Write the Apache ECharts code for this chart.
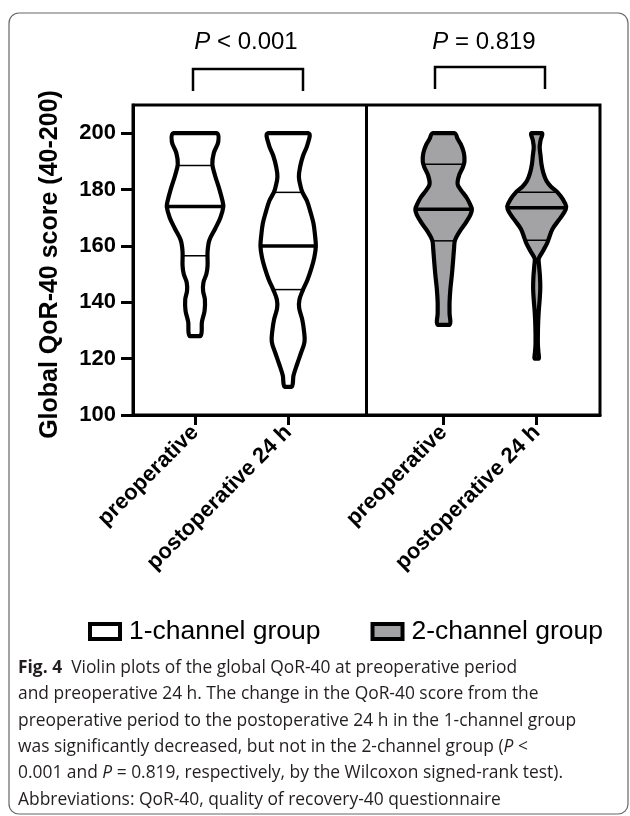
<!DOCTYPE html>
<html>
<head>
<meta charset="utf-8">
<script src="https://cdn.jsdelivr.net/npm/echarts@6/dist/echarts.min.js"></script>
<style>
  html, body { margin: 0; padding: 0; background: #fff; }
  #chart { width: 630px; height: 816px; }
</style>
</head>
<body>
<div id="chart"></div>
<script>
// categories / groups / ticks
var categories = ['preoperative', 'postoperative 24 h', 'preoperative', 'postoperative 24 h'];
var groupNames = ['1-channel group', '2-channel group'];
var yTicks = [100, 120, 140, 160, 180, 200];
var pValues = ['< 0.001', '= 0.819'];

// violin outlines: [score, relative density]
var dens1Pre = [[200, .72], [197, .78], [193, .63], [189, .58], [185, .67], [180, .82], [176, .92], [174, .95],
  [170, .85], [166, .67], [162, .48], [158, .42], [153, .42], [150, .38], [147, .28], [144, .27], [141, .33],
  [137, .32], [133, .23], [128, .18]];
var dens1Post = [[200, .68], [196, .65], [192, .50], [188, .40], [184.5, .36], [181, .42], [179, .48], [176, .63],
  [172, .75], [168, .85], [164, .90], [160, .93], [156, .88], [152, .78], [148, .65], [144.5, .50], [141, .38],
  [138, .37], [134, .47], [130, .53], [126, .55], [122, .43], [118, .30], [114, .18], [110, .12]];
var dens2Pre = [[200, .37], [198, .47], [196, .58], [193, .68], [190, .70], [188, .65], [185, .52], [182, .47],
  [180, .57], [177, .78], [174.5, .90], [173, .95], [171, .90], [168, .73], [165, .53], [162, .38], [159, .35],
  [155, .32], [150, .28], [145, .23], [140, .20], [136, .20], [132, .20]];
var dens2Post = [[200, .18], [197.5, .13], [195, .10], [192, .13], [189, .16], [186, .22], [183, .33], [181, .48],
  [179, .70], [176.5, .88], [174, .99], [172, .93], [169, .73], [166, .53], [163, .42], [161, .35], [158, .20],
  [155.5, .07], [153, .08], [149, .11], [145, .12], [141, .10], [137, .07], [133, .05], [129, .04], [125, .04],
  [122, .06], [120, .07]];

// [Q1, median, Q3]
var quart1Pre = [156.5, 174, 188.5];
var quart1Post = [144.5, 160, 179];
var quart2Pre = [161.8, 173, 189];
var quart2Post = [162, 173.5, 179];

var violins = [
  { dens: dens1Pre, quart: quart1Pre },
  { dens: dens1Post, quart: quart1Post },
  { dens: dens2Pre, quart: quart2Pre },
  { dens: dens2Post, quart: quart2Post }
];

// layout
var xPos = [1, 2, 3.67, 4.67];
var PANEL_SPLIT = 2.84;
var HALF = 0.32; // max half width in x units
var FONT = 'Liberation Sans, Arial, sans-serif';
var CAP_FONT = 'Open Sans';
var GRAY = '#a3a3a6';

function widthAt(dens, v) {
  for (var i = 0; i < dens.length - 1; i++) {
    var a = dens[i], b = dens[i + 1];
    if (v <= a[0] && v >= b[0]) {
      var t = (a[0] - v) / (a[0] - b[0]);
      return a[1] + (b[1] - a[1]) * t;
    }
  }
  return 0;
}

function violinItem(offset, fill) {
  return function (params, api) {
    var idx = offset + params.dataIndex;
    var v = violins[idx];
    var x = xPos[idx];
    var right = [], left = [];
    v.dens.forEach(function (d) {
      right.push(api.coord([x + d[1] * HALF, d[0]]));
      left.unshift(api.coord([x - d[1] * HALF, d[0]]));
    });
    var pts = right.concat(left);
    var mn = [Infinity, Infinity], mx = [-Infinity, -Infinity];
    pts.forEach(function (p) {
      mn[0] = Math.min(mn[0], p[0]); mn[1] = Math.min(mn[1], p[1]);
      mx[0] = Math.max(mx[0], p[0]); mx[1] = Math.max(mx[1], p[1]);
    });
    var children = [{
      type: 'polygon',
      shape: { points: pts, smooth: 0.35, smoothConstraint: [mn, mx] },
      style: { fill: fill, stroke: '#000', lineWidth: 4.2, lineJoin: 'round' }
    }];
    v.quart.forEach(function (q, i) {
      var w = widthAt(v.dens, q);
      var a = api.coord([x - w * HALF, q]);
      var b = api.coord([x + w * HALF, q]);
      children.push({
        type: 'line',
        shape: { x1: a[0], y1: a[1], x2: b[0], y2: b[1] },
        style: { stroke: '#000', lineWidth: i === 1 ? 3.5 : 1.5 }
      });
    });
    return { type: 'group', children: children };
  };
}

var chart = echarts.init(document.getElementById('chart'));

var caption = [
  '{b|Fig. 4}  Violin plots of the global QoR-40 at preoperative period',
  'and preoperative 24 h. The change in the QoR-40 score from the',
  'preoperative period to the postoperative 24 h in the 1-channel group',
  'was significantly decreased, but not in the 2-channel group ({i|P} <',
  '0.001 and {i|P} = 0.819, respectively, by the Wilcoxon signed-rank test).',
  'Abbreviations: QoR-40, quality of recovery-40 questionnaire'
].join('\n');

chart.setOption({
  animation: false,
  textStyle: { fontFamily: FONT },
  grid: { left: 133, right: 30, top: 105, bottom: 401, show: true, borderColor: '#000', borderWidth: 3 },
  legend: {
    left: 83, top: 613, itemWidth: 30, itemHeight: 15, itemGap: 50,
    textStyle: { fontSize: 26.5, color: '#000', fontFamily: FONT, padding: [0, 0, 0, 4] },
    data: [
      { name: groupNames[0], icon: 'rect', itemStyle: { color: '#fff', borderColor: '#000', borderWidth: 4 } },
      { name: groupNames[1], icon: 'rect', itemStyle: { color: GRAY, borderColor: '#000', borderWidth: 4 } }
    ]
  },
  xAxis: {
    type: 'value', min: 1 / 3, max: 5.35,
    axisLine: { show: true, lineStyle: { color: '#000', width: 3 } },
    axisTick: { show: true, length: 10, lineStyle: { color: '#000', width: 3 }, customValues: xPos },
    axisLabel: {
      customValues: xPos, rotate: 45, margin: 14, fontSize: 22, fontWeight: 'bold', color: '#000',
      formatter: function (val) {
        var best = 0;
        xPos.forEach(function (p, i) { if (Math.abs(p - val) < Math.abs(xPos[best] - val)) best = i; });
        return categories[best];
      }
    },
    splitLine: { show: false }
  },
  yAxis: {
    type: 'value', min: 100, max: 210, interval: 20,
    name: 'Global QoR-40 score (40-200)', nameLocation: 'middle', nameGap: 70,
    nameTextStyle: { fontSize: 25, fontWeight: 'bold', color: '#000', padding: [0, 9, 0, 0] },
    axisLine: { show: true, lineStyle: { color: '#000', width: 3 } },
    axisTick: { show: true, length: 12, lineStyle: { color: '#000', width: 3 }, customValues: yTicks },
    axisLabel: { customValues: yTicks, margin: 17, fontSize: 22, fontWeight: 'bold', color: '#000' },
    splitLine: { show: false }
  },
  series: [
    {
      name: groupNames[0], type: 'custom', renderItem: violinItem(0, '#fff'),
      itemStyle: { color: '#fff', borderColor: '#000', borderWidth: 4 },
      data: [[0], [1]]
    },
    {
      name: groupNames[1], type: 'custom', renderItem: violinItem(2, GRAY),
      itemStyle: { color: GRAY, borderColor: '#000', borderWidth: 4 },
      data: [[2], [3]],
      markLine: {
        silent: true, symbol: 'none', label: { show: false },
        lineStyle: { color: '#000', width: 3, type: 'solid' },
        data: [{ xAxis: PANEL_SPLIT }]
      }
    }
  ],
  graphic: [
    { type: 'rect', z: -10, shape: { x: 9, y: 13, width: 619, height: 801, r: 10 },
      style: { fill: 'none', stroke: '#666', lineWidth: 1.2 } },
    { type: 'text', x: 246, y: 42,
      style: { text: '{i|P} ' + pValues[0], align: 'center', verticalAlign: 'middle', fill: '#000',
        font: '24px ' + FONT, rich: { i: { fontStyle: 'italic', fontSize: 24, fontFamily: FONT } } } },
    { type: 'text', x: 484, y: 42,
      style: { text: '{i|P} ' + pValues[1], align: 'center', verticalAlign: 'middle', fill: '#000',
        font: '24px ' + FONT, rich: { i: { fontStyle: 'italic', fontSize: 24, fontFamily: FONT } } } },
    { type: 'polyline', shape: { points: [[193, 91], [193, 69], [303, 69], [303, 91]] },
      style: { stroke: '#000', lineWidth: 2.5, fill: 'none' } },
    { type: 'polyline', shape: { points: [[435, 89], [435, 67], [545, 67], [545, 89]] },
      style: { stroke: '#000', lineWidth: 2.5, fill: 'none' } },
    { type: 'text', x: 18, y: 655,
      style: { text: caption, fill: '#231f20', font: '17.4px ' + CAP_FONT, lineHeight: 26.3,
        rich: {
          b: { fontWeight: 'bold', fontSize: 17.4, fontFamily: CAP_FONT, lineHeight: 26.3 },
          i: { fontStyle: 'italic', fontSize: 17.4, fontFamily: CAP_FONT, lineHeight: 26.3 }
        } } }
  ]
});
</script>
</body>
</html>
